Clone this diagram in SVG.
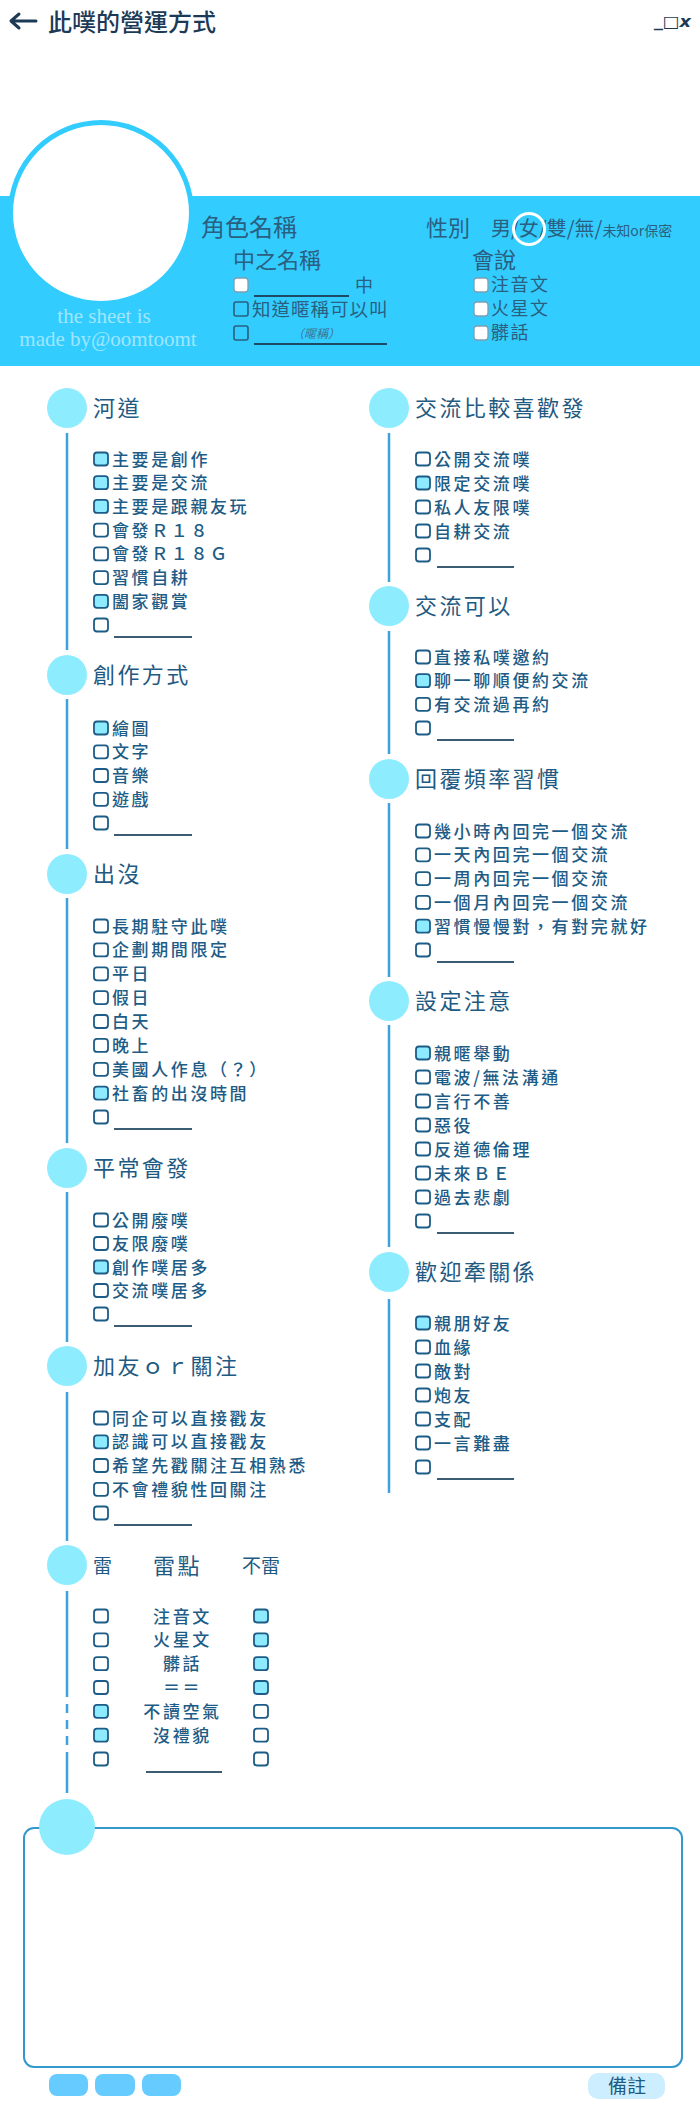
<svg xmlns="http://www.w3.org/2000/svg" width="700" height="2125" viewBox="0 0 700 2125">
<defs>
<style>
.cj{font-family:"Noto Sans CJK TC","Noto Sans CJK SC",sans-serif}
.ttl{font-size:22px;letter-spacing:2.4px;fill:#1f5a82}
.it{font-size:17px;letter-spacing:2.6px;fill:#1d5c86;font-weight:500}
.cb{fill:#fff;stroke:#1d5c86;stroke-width:1.8}
.on{fill:#8eebff}
.dot{fill:#8eecff}
.ul{stroke:#3b5c72;stroke-width:2}
.vl{stroke:#3da2dc;stroke-width:2.5;fill:none}
.bt{fill:#2a5f80}
.bcb{fill:#fff;stroke:#7f9fb2;stroke-width:1.3}
.bco{fill:none;stroke:#2a5f80;stroke-width:1.6}
.sig{font-family:"Liberation Serif",serif;font-size:21px;fill:#9fe6ff}
</style>
</defs>
<rect x="0" y="0" width="700" height="2125" fill="#fff"/>

<g id="header">
<path d="M11 21 H36 M11 21 L19 14 M11 21 L19 28" stroke="#1c3a56" stroke-width="3" fill="none" stroke-linecap="round" stroke-linejoin="round"/>
<text class="cj" x="48" y="31" font-size="24" font-weight="500" fill="#1c3a56">此噗的營運方式</text>
<text x="654" y="27" font-family="DejaVu Sans,sans-serif" font-size="16" font-style="italic" font-weight="bold" fill="#1c3a56" textLength="37" lengthAdjust="spacingAndGlyphs">_□x</text>
</g>

<g id="profile">
<rect x="0" y="196" width="700" height="170" fill="#33ccff"/>
<circle cx="101" cy="213" r="90.5" fill="#fff" stroke="#33ccff" stroke-width="5"/>
<text class="sig" x="104" y="323" text-anchor="middle">the sheet is</text>
<text class="sig" x="108" y="346" text-anchor="middle">made by@oomtoomt</text>
<text class="cj bt" x="201" y="236" font-size="24">角色名稱</text>
<text class="cj bt" x="426" y="236" font-size="22">性別</text>
<text class="cj bt" x="491" y="236" font-size="20">男/女/雙/無/<tspan font-size="14">未知or保密</tspan></text>
<circle cx="529" cy="229" r="15.5" fill="none" stroke="#fff" stroke-width="3"/>
<text class="cj bt" x="233" y="268" font-size="22">中之名稱</text>
<text class="cj bt" x="472" y="268" font-size="22">會說</text>
<rect class="bcb" x="234" y="278" width="14" height="14" rx="3"/>
<line x1="254" y1="296" x2="349" y2="296" stroke="#1f4a66" stroke-width="2"/>
<text class="cj bt" x="355" y="292" font-size="18">中</text>
<rect class="bco" x="234" y="302" width="14" height="14" rx="2"/>
<text class="cj bt" x="252" y="316" font-size="18.5" letter-spacing="1">知道暱稱可以叫</text>
<rect class="bco" x="234" y="326" width="14" height="14" rx="2"/>
<text class="cj" x="316" y="338" font-size="12" font-style="italic" fill="#3f7593" text-anchor="middle">（暱稱）</text>
<line x1="254" y1="344" x2="387" y2="344" stroke="#1f4a66" stroke-width="2"/>
<rect class="bcb" x="474" y="278" width="14" height="14" rx="3"/>
<text class="cj bt" x="491" y="291" font-size="18" letter-spacing="1.5">注音文</text>
<rect class="bcb" x="474" y="302" width="14" height="14" rx="3"/>
<text class="cj bt" x="491" y="315" font-size="18" letter-spacing="1.5">火星文</text>
<rect class="bcb" x="474" y="326" width="14" height="14" rx="3"/>
<text class="cj bt" x="491" y="339" font-size="18" letter-spacing="1.5">髒話</text>
</g>

<g id="connectors">
<line class="vl" x1="67" y1="433" x2="67" y2="650"/>
<line class="vl" x1="67" y1="699" x2="67" y2="849"/>
<line class="vl" x1="67" y1="898" x2="67" y2="1143"/>
<line class="vl" x1="67" y1="1192" x2="67" y2="1342"/>
<line class="vl" x1="67" y1="1392" x2="67" y2="1541"/>
<line class="vl" x1="67" y1="1591" x2="67" y2="1697"/>
<line class="vl" x1="67" y1="1704" x2="67" y2="1760" stroke-dasharray="9 7"/>
<line class="vl" x1="67" y1="1760" x2="67" y2="1793"/>
<line class="vl" x1="389" y1="433" x2="389" y2="582"/>
<line class="vl" x1="389" y1="631" x2="389" y2="754"/>
<line class="vl" x1="389" y1="803" x2="389" y2="977"/>
<line class="vl" x1="389" y1="1025" x2="389" y2="1247"/>
<line class="vl" x1="389" y1="1299" x2="389" y2="1493"/>
</g>

<g id="sec-hedao" class="cj">
<circle class="dot" cx="67" cy="408" r="20"/>
<text class="ttl" x="93" y="416">河道</text>
<rect class="cb on" x="94" y="452.5" width="14" height="13" rx="3"/><text class="it" x="112" y="465.5">主要是創作</text>
<rect class="cb on" x="94" y="476.2" width="14" height="13" rx="3"/><text class="it" x="112" y="489.2">主要是交流</text>
<rect class="cb on" x="94" y="499.9" width="14" height="13" rx="3"/><text class="it" x="112" y="512.9">主要是跟親友玩</text>
<rect class="cb" x="94" y="523.6" width="14" height="13" rx="3"/><text class="it" x="112" y="536.6">會發Ｒ１８</text>
<rect class="cb" x="94" y="547.4" width="14" height="13" rx="3"/><text class="it" x="112" y="560.4">會發Ｒ１８Ｇ</text>
<rect class="cb" x="94" y="571.1" width="14" height="13" rx="3"/><text class="it" x="112" y="584.1">習慣自耕</text>
<rect class="cb on" x="94" y="594.8" width="14" height="13" rx="3"/><text class="it" x="112" y="607.8">闔家觀賞</text>
<rect class="cb" x="94" y="618.5" width="14" height="13" rx="3"/><line class="ul" x1="114" y1="637" x2="192" y2="637"/>
</g>

<g id="sec-chuangzuo" class="cj">
<circle class="dot" cx="67" cy="675" r="20"/>
<text class="ttl" x="93" y="683">創作方式</text>
<rect class="cb on" x="94" y="721.5" width="14" height="13" rx="3"/><text class="it" x="112" y="734.5">繪圖</text>
<rect class="cb" x="94" y="745.3" width="14" height="13" rx="3"/><text class="it" x="112" y="758.3">文字</text>
<rect class="cb" x="94" y="769" width="14" height="13" rx="3"/><text class="it" x="112" y="782">音樂</text>
<rect class="cb" x="94" y="792.8" width="14" height="13" rx="3"/><text class="it" x="112" y="805.8">遊戲</text>
<rect class="cb" x="94" y="816.5" width="14" height="13" rx="3"/><line class="ul" x1="114" y1="835" x2="192" y2="835"/>
</g>

<g id="sec-chumo" class="cj">
<circle class="dot" cx="67" cy="874" r="20"/>
<text class="ttl" x="93" y="882">出沒</text>
<rect class="cb" x="94" y="919.5" width="14" height="13" rx="3"/><text class="it" x="112" y="932.5">長期駐守此噗</text>
<rect class="cb" x="94" y="943.4" width="14" height="13" rx="3"/><text class="it" x="112" y="956.4">企劃期間限定</text>
<rect class="cb" x="94" y="967.3" width="14" height="13" rx="3"/><text class="it" x="112" y="980.3">平日</text>
<rect class="cb" x="94" y="991.1" width="14" height="13" rx="3"/><text class="it" x="112" y="1004.1">假日</text>
<rect class="cb" x="94" y="1015" width="14" height="13" rx="3"/><text class="it" x="112" y="1028">白天</text>
<rect class="cb" x="94" y="1038.9" width="14" height="13" rx="3"/><text class="it" x="112" y="1051.9">晚上</text>
<rect class="cb" x="94" y="1062.8" width="14" height="13" rx="3"/><text class="it" x="112" y="1075.8">美國人作息（？）</text>
<rect class="cb on" x="94" y="1086.6" width="14" height="13" rx="3"/><text class="it" x="112" y="1099.6">社畜的出沒時間</text>
<rect class="cb" x="94" y="1110.5" width="14" height="13" rx="3"/><line class="ul" x1="114" y1="1129" x2="192" y2="1129"/>
</g>

<g id="sec-pingchang" class="cj">
<circle class="dot" cx="67" cy="1168" r="20"/>
<text class="ttl" x="93" y="1176">平常會發</text>
<rect class="cb" x="94" y="1213.5" width="14" height="13" rx="3"/><text class="it" x="112" y="1226.5">公開廢噗</text>
<rect class="cb" x="94" y="1237" width="14" height="13" rx="3"/><text class="it" x="112" y="1250">友限廢噗</text>
<rect class="cb on" x="94" y="1260.5" width="14" height="13" rx="3"/><text class="it" x="112" y="1273.5">創作噗居多</text>
<rect class="cb" x="94" y="1284" width="14" height="13" rx="3"/><text class="it" x="112" y="1297">交流噗居多</text>
<rect class="cb" x="94" y="1307.5" width="14" height="13" rx="3"/><line class="ul" x1="114" y1="1326" x2="192" y2="1326"/>
</g>

<g id="sec-jiayou" class="cj">
<circle class="dot" cx="67" cy="1366" r="20"/>
<text class="ttl" x="93" y="1374">加友ｏｒ關注</text>
<rect class="cb" x="94" y="1411.5" width="14" height="13" rx="3"/><text class="it" x="112" y="1424.5">同企可以直接戳友</text>
<rect class="cb on" x="94" y="1435.3" width="14" height="13" rx="3"/><text class="it" x="112" y="1448.3">認識可以直接戳友</text>
<rect class="cb" x="94" y="1459" width="14" height="13" rx="3"/><text class="it" x="112" y="1472">希望先戳關注互相熟悉</text>
<rect class="cb" x="94" y="1482.8" width="14" height="13" rx="3"/><text class="it" x="112" y="1495.8">不會禮貌性回關注</text>
<rect class="cb" x="94" y="1506.5" width="14" height="13" rx="3"/><line class="ul" x1="114" y1="1525" x2="192" y2="1525"/>
</g>

<g id="sec-leidian" class="cj">
<circle class="dot" cx="67" cy="1565" r="20"/>
<text x="93" y="1573" font-size="19" fill="#1f5a82">雷</text>
<text class="ttl" x="153" y="1574">雷點</text>
<text x="242" y="1573" font-size="19" fill="#1f5a82">不雷</text>
<rect class="cb" x="94" y="1609.5" width="14" height="13" rx="3"/><text class="it" x="182.5" y="1622.5" text-anchor="middle">注音文</text><rect class="cb on" x="254" y="1609.5" width="14" height="13" rx="3"/>
<rect class="cb" x="94" y="1633.3" width="14" height="13" rx="3"/><text class="it" x="182.5" y="1646.3" text-anchor="middle">火星文</text><rect class="cb on" x="254" y="1633.3" width="14" height="13" rx="3"/>
<rect class="cb" x="94" y="1657.2" width="14" height="13" rx="3"/><text class="it" x="182.5" y="1670.2" text-anchor="middle">髒話</text><rect class="cb on" x="254" y="1657.2" width="14" height="13" rx="3"/>
<rect class="cb" x="94" y="1681" width="14" height="13" rx="3"/><text class="it" x="182.5" y="1694" text-anchor="middle">＝＝</text><rect class="cb on" x="254" y="1681" width="14" height="13" rx="3"/>
<rect class="cb on" x="94" y="1704.8" width="14" height="13" rx="3"/><text class="it" x="182.5" y="1717.8" text-anchor="middle">不讀空氣</text><rect class="cb" x="254" y="1704.8" width="14" height="13" rx="3"/>
<rect class="cb on" x="94" y="1728.7" width="14" height="13" rx="3"/><text class="it" x="182.5" y="1741.7" text-anchor="middle">沒禮貌</text><rect class="cb" x="254" y="1728.7" width="14" height="13" rx="3"/>
<rect class="cb" x="94" y="1752.5" width="14" height="13" rx="3"/><line class="ul" x1="146" y1="1772" x2="222" y2="1772"/><rect class="cb" x="254" y="1752.5" width="14" height="13" rx="3"/>
</g>

<g id="sec-jiaoliu" class="cj">
<circle class="dot" cx="389" cy="408" r="20"/>
<text class="ttl" x="415" y="416">交流比較喜歡發</text>
<rect class="cb" x="416" y="452.5" width="14" height="13" rx="3"/><text class="it" x="434" y="465.5">公開交流噗</text>
<rect class="cb on" x="416" y="476.5" width="14" height="13" rx="3"/><text class="it" x="434" y="489.5">限定交流噗</text>
<rect class="cb" x="416" y="500.5" width="14" height="13" rx="3"/><text class="it" x="434" y="513.5">私人友限噗</text>
<rect class="cb" x="416" y="524.5" width="14" height="13" rx="3"/><text class="it" x="434" y="537.5">自耕交流</text>
<rect class="cb" x="416" y="548.5" width="14" height="13" rx="3"/><line class="ul" x1="437" y1="567" x2="514" y2="567"/>
</g>

<g id="sec-keyi" class="cj">
<circle class="dot" cx="389" cy="606" r="20"/>
<text class="ttl" x="415" y="614">交流可以</text>
<rect class="cb" x="416" y="650.5" width="14" height="13" rx="3"/><text class="it" x="434" y="663.5">直接私噗邀約</text>
<rect class="cb on" x="416" y="674.2" width="14" height="13" rx="3"/><text class="it" x="434" y="687.2">聊一聊順便約交流</text>
<rect class="cb" x="416" y="697.8" width="14" height="13" rx="3"/><text class="it" x="434" y="710.8">有交流過再約</text>
<rect class="cb" x="416" y="721.5" width="14" height="13" rx="3"/><line class="ul" x1="437" y1="740" x2="514" y2="740"/>
</g>

<g id="sec-huifu" class="cj">
<circle class="dot" cx="389" cy="779" r="20"/>
<text class="ttl" x="415" y="787">回覆頻率習慣</text>
<rect class="cb" x="416" y="824.5" width="14" height="13" rx="3"/><text class="it" x="434" y="837.5">幾小時內回完一個交流</text>
<rect class="cb" x="416" y="848.3" width="14" height="13" rx="3"/><text class="it" x="434" y="861.3">一天內回完一個交流</text>
<rect class="cb" x="416" y="872.1" width="14" height="13" rx="3"/><text class="it" x="434" y="885.1">一周內回完一個交流</text>
<rect class="cb" x="416" y="895.9" width="14" height="13" rx="3"/><text class="it" x="434" y="908.9">一個月內回完一個交流</text>
<rect class="cb on" x="416" y="919.7" width="14" height="13" rx="3"/><text class="it" x="434" y="932.7">習慣慢慢對，有對完就好</text>
<rect class="cb" x="416" y="943.5" width="14" height="13" rx="3"/><line class="ul" x1="437" y1="962" x2="514" y2="962"/>
</g>

<g id="sec-sheding" class="cj">
<circle class="dot" cx="389" cy="1001" r="20"/>
<text class="ttl" x="415" y="1009">設定注意</text>
<rect class="cb on" x="416" y="1046.5" width="14" height="13" rx="3"/><text class="it" x="434" y="1059.5">親暱舉動</text>
<rect class="cb" x="416" y="1070.5" width="14" height="13" rx="3"/><text class="it" x="434" y="1083.5">電波/無法溝通</text>
<rect class="cb" x="416" y="1094.5" width="14" height="13" rx="3"/><text class="it" x="434" y="1107.5">言行不善</text>
<rect class="cb" x="416" y="1118.5" width="14" height="13" rx="3"/><text class="it" x="434" y="1131.5">惡役</text>
<rect class="cb" x="416" y="1142.5" width="14" height="13" rx="3"/><text class="it" x="434" y="1155.5">反道德倫理</text>
<rect class="cb" x="416" y="1166.5" width="14" height="13" rx="3"/><text class="it" x="434" y="1179.5">未來ＢＥ</text>
<rect class="cb" x="416" y="1190.5" width="14" height="13" rx="3"/><text class="it" x="434" y="1203.5">過去悲劇</text>
<rect class="cb" x="416" y="1214.5" width="14" height="13" rx="3"/><line class="ul" x1="437" y1="1233" x2="514" y2="1233"/>
</g>

<g id="sec-guanxi" class="cj">
<circle class="dot" cx="389" cy="1272" r="20"/>
<text class="ttl" x="415" y="1280">歡迎牽關係</text>
<rect class="cb on" x="416" y="1316.5" width="14" height="13" rx="3"/><text class="it" x="434" y="1329.5">親朋好友</text>
<rect class="cb" x="416" y="1340.5" width="14" height="13" rx="3"/><text class="it" x="434" y="1353.5">血緣</text>
<rect class="cb" x="416" y="1364.5" width="14" height="13" rx="3"/><text class="it" x="434" y="1377.5">敵對</text>
<rect class="cb" x="416" y="1388.5" width="14" height="13" rx="3"/><text class="it" x="434" y="1401.5">炮友</text>
<rect class="cb" x="416" y="1412.5" width="14" height="13" rx="3"/><text class="it" x="434" y="1425.5">支配</text>
<rect class="cb" x="416" y="1436.5" width="14" height="13" rx="3"/><text class="it" x="434" y="1449.5">一言難盡</text>
<rect class="cb" x="416" y="1460.5" width="14" height="13" rx="3"/><line class="ul" x1="437" y1="1479" x2="514" y2="1479"/>
</g>

<g id="notes">
<rect x="24" y="1828" width="658" height="239" rx="10" fill="#fff" stroke="#3399cc" stroke-width="2"/>
<circle class="dot" cx="67" cy="1827" r="28"/>
<rect x="49" y="2074" width="39" height="22" rx="8" fill="#66ccff"/>
<rect x="95" y="2074" width="40" height="22" rx="8" fill="#66ccff"/>
<rect x="142" y="2074" width="39" height="22" rx="8" fill="#66ccff"/>
<rect x="588" y="2073" width="77" height="26" rx="10" fill="#cceeff"/>
<text class="cj" x="627" y="2093" font-size="19" fill="#1f5a82" text-anchor="middle">備註</text>
</g>
</svg>
